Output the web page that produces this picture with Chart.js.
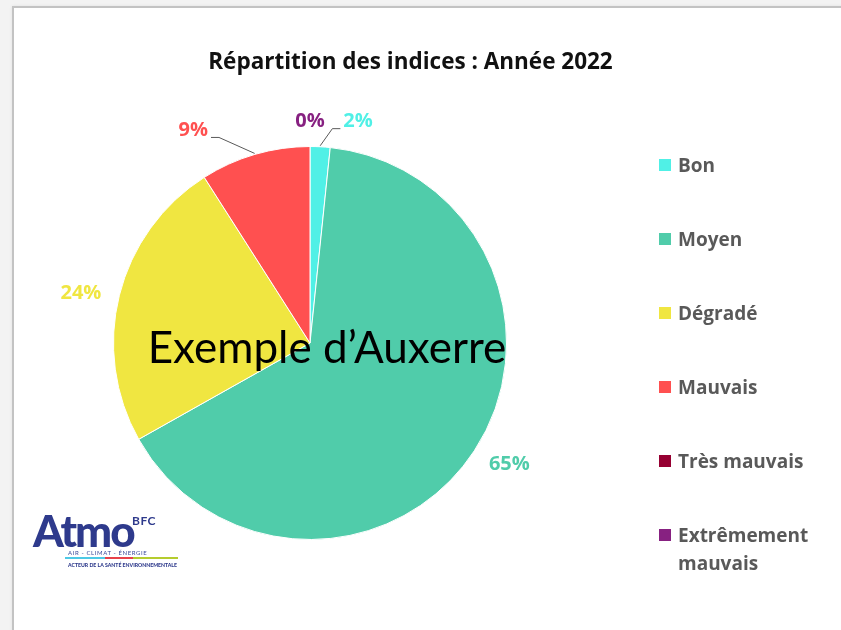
<!DOCTYPE html>
<html>
<head>
<meta charset="utf-8">
<script src="https://cdn.jsdelivr.net/npm/chart.js@4.4.1/dist/chart.umd.min.js"></script>
<style>
  html, body { margin: 0; padding: 0; width: 841px; height: 630px; overflow: hidden; background: #f3f3f3; font-family: "Open Sans", Lato, sans-serif; }
  #panel { position: absolute; left: 12px; top: 6px; width: 840px; height: 640px; background: #fff; border: 2px solid #c3c3c3; box-shadow: 0 0 3px rgba(0,0,0,0.08); }
  #chart { position: absolute; left: 13px; top: 7px; }
  #title { position: absolute; left: 0; width: 821px; top: 45px; text-align: center; font-weight: bold; font-size: 22.5px; color: #111; }
  #watermark { position: absolute; left: 127px; width: 400px; top: 320px; text-align: center; font-family: Lato, sans-serif; font-size: 44px; color: #000; white-space: nowrap; }
  #legend { position: absolute; left: 659px; top: 0; }
  .item { position: absolute; left: 0; display: flex; align-items: flex-start; font-weight: bold; font-size: 19px; line-height: 28px; color: #595959; }
  .item .box { width: 12px; height: 12px; margin-top: 8px; margin-right: 7px; flex: none; }
  .item .txt { width: 145px; }
  #logo { position: absolute; left: 33px; top: 505px; width: 160px; height: 70px; color: #2e3a8c; font-family: Lato, sans-serif; }
  #logo .atmo { position: absolute; left: 0; top: 0; font-weight: 900; font-size: 44px; letter-spacing: -2px; line-height: 50px; }
  #logo .bfc { position: absolute; left: 99px; top: 8px; font-weight: bold; font-size: 12px; letter-spacing: 0.5px; }
  #logo .air { position: absolute; left: 35px; top: 44px; font-size: 6px; letter-spacing: 0.6px; color: #3b4a9a; white-space: nowrap; }
  #logo .bar { position: absolute; top: 52px; height: 2px; }
  #logo .acteur { position: absolute; left: 35px; top: 56px; font-weight: 900; font-size: 6px; white-space: nowrap; transform: scaleX(0.86); transform-origin: left top; }
</style>
</head>
<body>
<div id="panel"></div>
<canvas id="chart" width="795" height="623"></canvas>
<div id="title">Répartition des indices : Année 2022</div>
<div id="watermark">Exemple d’Auxerre</div>
<div id="legend"></div>
<div id="logo">
  <div class="atmo">Atmo</div>
  <div class="bfc">BFC</div>
  <div class="air">AIR - CLIMAT - ÉNERGIE</div>
  <div class="bar" style="left:32px;width:40px;background:#4dc9e6"></div>
  <div class="bar" style="left:72px;width:28px;background:#e8414a"></div>
  <div class="bar" style="left:100px;width:45px;background:#b5cc2e"></div>
  <div class="acteur">ACTEUR DE LA SANTÉ ENVIRONNEMENTALE</div>
</div>
<script>
// nombre de jours par indice, année 2022
const categories = ['Bon', 'Moyen', 'Dégradé', 'Mauvais', 'Très mauvais', 'Extrêmement mauvais'];
const days = [6, 238, 88, 33, 0, 0];
const colors = ['#50f0e6', '#50ccaa', '#f0e641', '#ff5050', '#960032', '#872181'];

// labels autour du camembert, decalage en degres et distance au bord
const labelPlacement = [
  { shift: 9.3, dist: 30, leader: true },
  { shift: -1.9, dist: 37 },
  { shift: -1.7, dist: 38 },
  { shift: -12.5, dist: 46, leader: true },
  null,
  { shift: 0, dist: 25 }
];

const pctLabels = {
  id: 'pctLabels',
  afterDatasetsDraw(chart, args, opts) {
    const ctx = chart.ctx;
    const ds = chart.data.datasets[0];
    const total = ds.data.reduce((a, b) => a + b, 0);
    ctx.save();
    ctx.font = 'bold 20px "Open Sans", sans-serif';
    ctx.textAlign = 'center';
    ctx.textBaseline = 'middle';
    chart.getDatasetMeta(0).data.forEach((arc, i) => {
      const cfg = opts.placement[i];
      if (!cfg) return;
      const p = arc.getProps(['x', 'y', 'startAngle', 'endAngle', 'outerRadius'], true);
      const mid = (p.startAngle + p.endAngle) / 2;
      const a = mid + cfg.shift * Math.PI / 180;
      const r = p.outerRadius + cfg.dist;
      const lx = p.x + Math.cos(a) * r;
      const ly = p.y + Math.sin(a) * r;
      const text = Math.round(ds.data[i] / total * 100) + '%';
      ctx.fillStyle = ds.backgroundColor[i];
      ctx.fillText(text, lx, ly);
      if (cfg.leader) {
        const w = ctx.measureText(text).width;
        const sx = p.x + Math.cos(mid) * (p.outerRadius + 1);
        const sy = p.y + Math.sin(mid) * (p.outerRadius + 1);
        const side = lx > sx ? -1 : 1;
        const ax = lx + side * (w / 2 + 3);
        const ay = ly + 7;
        ctx.strokeStyle = '#595959';
        ctx.lineWidth = 1;
        ctx.beginPath();
        ctx.moveTo(sx, sy);
        ctx.lineTo(ax + side * 8, ay);
        ctx.lineTo(ax, ay);
        ctx.stroke();
      }
    });
    ctx.restore();
  }
};

new Chart(document.getElementById('chart').getContext('2d'), {
  type: 'pie',
  data: {
    labels: categories,
    datasets: [{
      data: days,
      backgroundColor: colors,
      borderColor: '#ffffff',
      borderWidth: 1
    }]
  },
  options: {
    responsive: false,
    animation: false,
    devicePixelRatio: 1,
    layout: { padding: { left: 0, right: 201, top: 139, bottom: 90 } },
    plugins: {
      legend: { display: false },
      tooltip: { enabled: false },
      pctLabels: { placement: labelPlacement }
    }
  },
  plugins: [pctLabels]
});

const legend = document.getElementById('legend');
categories.forEach((c, i) => {
  const item = document.createElement('div');
  item.className = 'item';
  item.style.top = (151 + i * 74) + 'px';
  item.innerHTML = '<span class="box" style="background:' + colors[i] + '"></span><span class="txt">' + c + '</span>';
  legend.appendChild(item);
});
</script>
</body>
</html>
